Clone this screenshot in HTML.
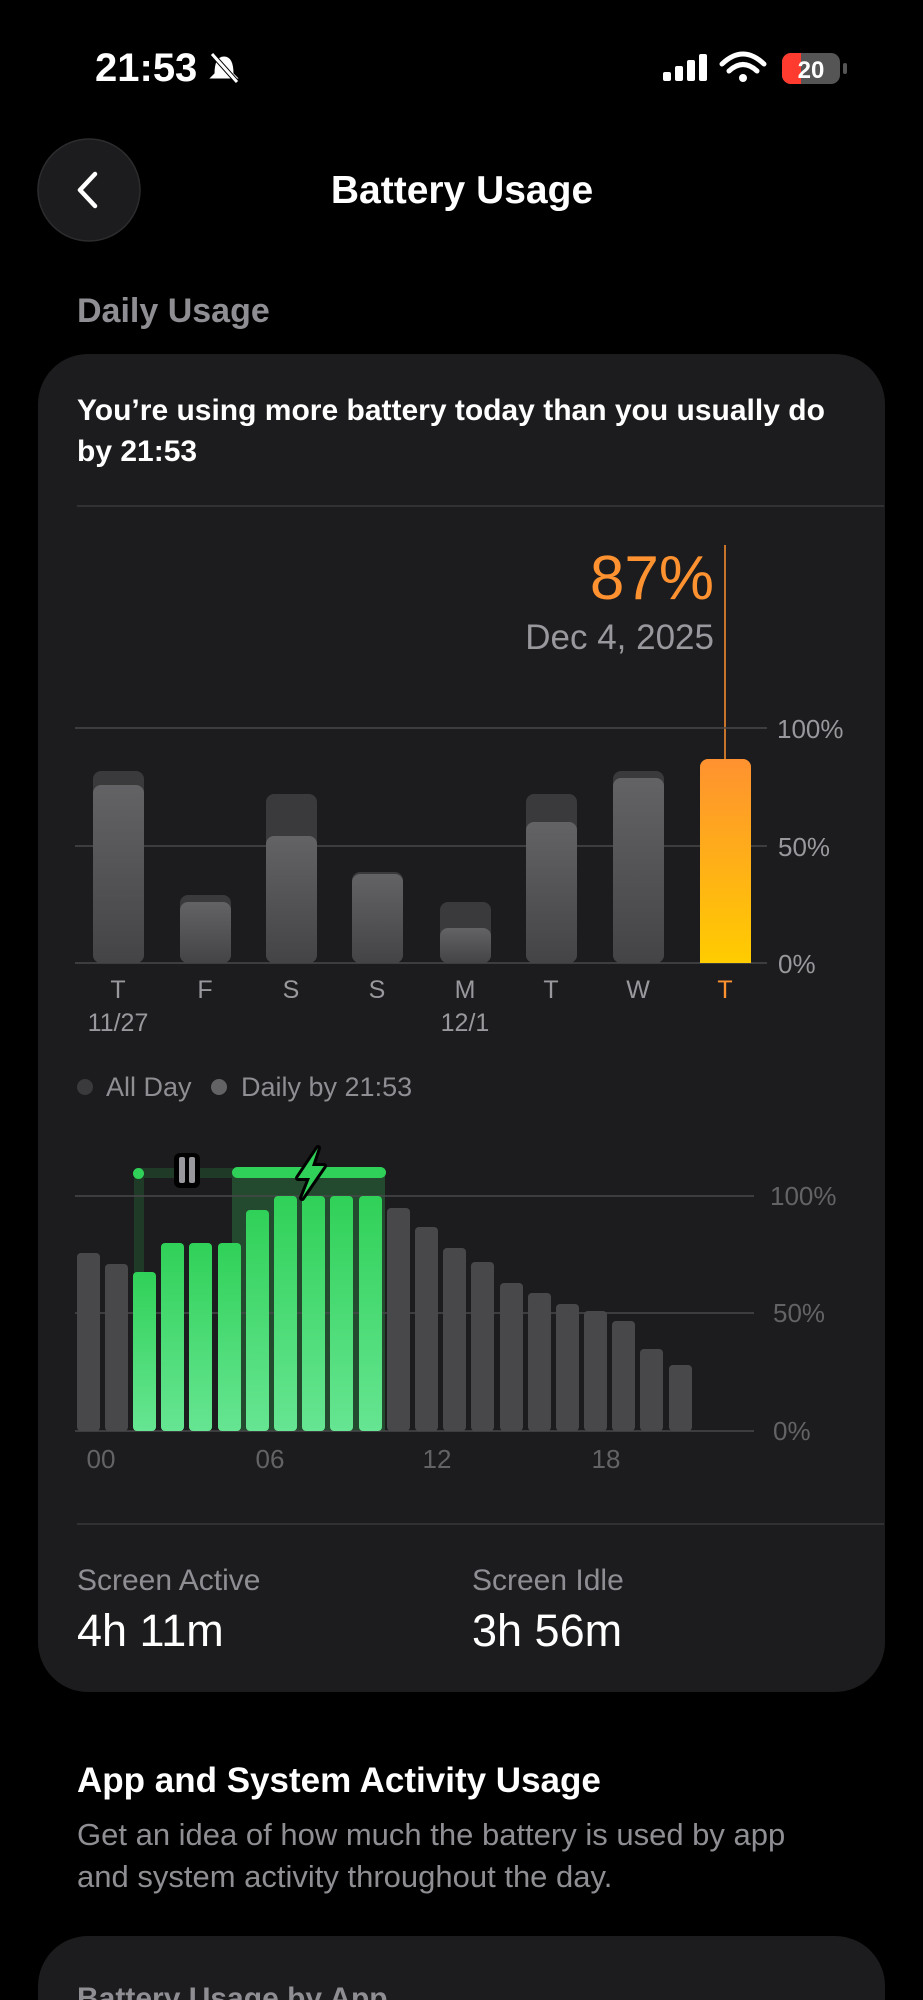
<!DOCTYPE html>
<html><head><meta charset="utf-8"><style>
html,body{margin:0;padding:0;background:#000;}
svg{display:block;font-family:"Liberation Sans",sans-serif;}
</style></head><body>
<svg width="923" height="2000" viewBox="0 0 923 2000" xmlns="http://www.w3.org/2000/svg">
<defs>
<linearGradient id="gd" x1="0" y1="0" x2="0" y2="1"><stop offset="0" stop-color="#636366"/><stop offset="1" stop-color="#444446"/></linearGradient>
<linearGradient id="go" x1="0" y1="0" x2="0" y2="1"><stop offset="0" stop-color="#ff9230"/><stop offset="1" stop-color="#ffcc00"/></linearGradient>
<linearGradient id="gg" x1="0" y1="0" x2="0" y2="1"><stop offset="0" stop-color="#30d158"/><stop offset="1" stop-color="#66e592"/></linearGradient>
</defs>
<rect width="923" height="2000" fill="#000"/>
<text x="95" y="81" fill="#fff" font-size="40" font-weight="bold">21:53</text>
<g transform="translate(210,52)" stroke="#fff" stroke-width="3" fill="none">
<path d="M6 22 C6 10 9 6 14 6 C19 6 22 10 22 22 L25 25 L3 25 Z" fill="#fff"/>
<line x1="2" y1="2" x2="27" y2="30" stroke="#000" stroke-width="5"/>
<line x1="2" y1="2" x2="27" y2="30"/>
</g>
<g fill="#fff">
<rect x="663" y="72" width="8" height="9" rx="2"/><rect x="675" y="66" width="8" height="15" rx="2"/><rect x="687" y="60" width="8" height="21" rx="2"/><rect x="699" y="54" width="8" height="27" rx="2"/>
</g>
<g fill="none" stroke="#fff" stroke-width="5" stroke-linecap="round">
<path d="M722 64 Q743 44 764 64"/><path d="M729 71 Q743 58 757 71"/>
</g>
<circle cx="743" cy="78" r="4" fill="#fff"/>
<rect x="782" y="53" width="58" height="31" rx="9" fill="#555"/>
<path d="M791 53 h10 v31 h-10 a9 9 0 0 1 -9 -9 v-13 a9 9 0 0 1 9 -9z" fill="#ff3b30"/>
<rect x="843" y="63" width="4" height="11" rx="2" fill="#555"/>
<text x="811" y="78" fill="#fff" font-size="24" font-weight="bold" text-anchor="middle">20</text>
<circle cx="89" cy="190" r="51" fill="#1c1c1e" stroke="#2c2c2e" stroke-width="1.5"/>
<path d="M95 174 L80 190 L95 206" fill="none" stroke="#fff" stroke-width="4.5" stroke-linecap="round" stroke-linejoin="round"/>
<text x="462" y="203" fill="#fff" font-size="39" font-weight="bold" text-anchor="middle">Battery Usage</text>
<text x="77" y="322" fill="#8e8e93" font-size="34" font-weight="bold">Daily Usage</text>
<rect x="38" y="354" width="847" height="1338" rx="50" fill="#1c1c1e"/>
<text x="77" y="420" fill="#fff" font-size="30" font-weight="bold">You’re using more battery today than you usually do</text>
<text x="77" y="461" fill="#fff" font-size="30" font-weight="bold">by 21:53</text>
<line x1="77" y1="506" x2="884" y2="506" stroke="#38383a" stroke-width="1.5"/>
<text x="714" y="599" fill="#ff9230" font-size="62" text-anchor="end">87%</text>
<text x="714" y="649" fill="#98989d" font-size="35" text-anchor="end">Dec 4, 2025</text>
<line x1="725" y1="545" x2="725" y2="760" stroke="#ff9230" stroke-width="1.5"/>
<g stroke="#48484a" stroke-width="1.5">
<line x1="75" y1="728" x2="767" y2="728"/><line x1="75" y1="846" x2="767" y2="846"/><line x1="75" y1="963" x2="767" y2="963"/>
</g>
<g fill="#98989d" font-size="26">
<text x="777" y="738">100%</text><text x="778" y="856">50%</text><text x="778" y="973">0%</text>
</g>
<g>
<rect x="93" y="771" width="51" height="192" rx="8" fill="#3a3a3c"/><rect x="93" y="785" width="51" height="178" rx="8" fill="url(#gd)"/>
<rect x="180" y="895" width="51" height="68" rx="8" fill="#3a3a3c"/><rect x="180" y="902" width="51" height="61" rx="8" fill="url(#gd)"/>
<rect x="266" y="794" width="51" height="169" rx="8" fill="#3a3a3c"/><rect x="266" y="836" width="51" height="127" rx="8" fill="url(#gd)"/>
<rect x="352" y="872" width="51" height="91" rx="8" fill="#3a3a3c"/><rect x="352" y="874" width="51" height="89" rx="8" fill="url(#gd)"/>
<rect x="440" y="902" width="51" height="61" rx="8" fill="#3a3a3c"/><rect x="440" y="928" width="51" height="35" rx="8" fill="url(#gd)"/>
<rect x="526" y="794" width="51" height="169" rx="8" fill="#3a3a3c"/><rect x="526" y="822" width="51" height="141" rx="8" fill="url(#gd)"/>
<rect x="613" y="771" width="51" height="192" rx="8" fill="#3a3a3c"/><rect x="613" y="778" width="51" height="185" rx="8" fill="url(#gd)"/>
<path d="M700 767 a8 8 0 0 1 8 -8 h35 a8 8 0 0 1 8 8 v196 h-51z" fill="url(#go)"/>
</g>
<g fill="#98989d" font-size="25" text-anchor="middle">
<text x="118" y="998">T</text><text x="205" y="998">F</text><text x="291" y="998">S</text><text x="377" y="998">S</text><text x="465" y="998">M</text><text x="551" y="998">T</text><text x="638" y="998">W</text><text x="725" y="998" fill="#ff9230">T</text>
<text x="118" y="1031">11/27</text><text x="465" y="1031">12/1</text>
</g>
<circle cx="85" cy="1087" r="8" fill="#3a3a3c"/><text x="106" y="1096" fill="#8e8e93" font-size="27">All Day</text>
<circle cx="219" cy="1087" r="8" fill="#636366"/><text x="241" y="1096" fill="#8e8e93" font-size="27">Daily by 21:53</text>
<rect x="134" y="1173" width="10" height="258" fill="#1f3b27"/>
<rect x="138" y="1168" width="95" height="10" fill="#1f3b27"/>
<rect x="232" y="1173" width="153" height="258" fill="#234a2e"/>
<g stroke="#48484a" stroke-width="1.5">
<line x1="75" y1="1196" x2="754" y2="1196"/><line x1="75" y1="1313" x2="754" y2="1313"/><line x1="75" y1="1431" x2="754" y2="1431"/>
</g>
<g fill="#636366" font-size="26">
<text x="770" y="1205">100%</text><text x="773" y="1322">50%</text><text x="773" y="1440">0%</text>
</g>
<g fill="#48484a">
<rect x="77" y="1253" width="23" height="178" rx="4"/>
<rect x="105" y="1264" width="23" height="167" rx="4"/>
<rect x="387" y="1208" width="23" height="223" rx="4"/>
<rect x="415" y="1227" width="23" height="204" rx="4"/>
<rect x="443" y="1248" width="23" height="183" rx="4"/>
<rect x="471" y="1262" width="23" height="169" rx="4"/>
<rect x="500" y="1283" width="23" height="148" rx="4"/>
<rect x="528" y="1293" width="23" height="138" rx="4"/>
<rect x="556" y="1304" width="23" height="127" rx="4"/>
<rect x="584" y="1311" width="23" height="120" rx="4"/>
<rect x="612" y="1321" width="23" height="110" rx="4"/>
<rect x="640" y="1349" width="23" height="82" rx="4"/>
<rect x="669" y="1365" width="23" height="66" rx="4"/>
</g>
<g fill="url(#gg)">
<rect x="133" y="1272" width="23" height="159" rx="4"/>
<rect x="161" y="1243" width="23" height="188" rx="4"/>
<rect x="189" y="1243" width="23" height="188" rx="4"/>
<rect x="218" y="1243" width="23" height="188" rx="4"/>
<rect x="246" y="1210" width="23" height="221" rx="4"/>
<rect x="274" y="1196" width="23" height="235" rx="4"/>
<rect x="302" y="1196" width="23" height="235" rx="4"/>
<rect x="330" y="1196" width="23" height="235" rx="4"/>
<rect x="359" y="1196" width="23" height="235" rx="4"/>
</g>
<rect x="133" y="1168" width="11" height="11" rx="5.5" fill="#30d158"/>
<rect x="232" y="1167" width="154" height="11" rx="5.5" fill="#30d158"/>
<rect x="174" y="1153" width="26" height="35" rx="6" fill="#000"/>
<rect x="179" y="1157" width="6" height="26" rx="2" fill="#98989d"/><rect x="189" y="1157" width="6" height="26" rx="2" fill="#98989d"/>
<path d="M318 1148 L298 1178 L310 1178 L302 1198 L324 1166 L312 1166 Z" fill="#000" stroke="#000" stroke-width="6" stroke-linejoin="round"/>
<path d="M318 1148 L298 1178 L310 1178 L302 1198 L324 1166 L312 1166 Z" fill="#30d158"/>
<g fill="#636366" font-size="26" text-anchor="middle">
<text x="101" y="1468">00</text><text x="270" y="1468">06</text><text x="437" y="1468">12</text><text x="606" y="1468">18</text>
</g>
<line x1="77" y1="1524" x2="884" y2="1524" stroke="#38383a" stroke-width="1.5"/>
<text x="77" y="1590" fill="#8e8e93" font-size="30">Screen Active</text>
<text x="472" y="1590" fill="#8e8e93" font-size="30">Screen Idle</text>
<text x="77" y="1646" fill="#fff" font-size="45">4h 11m</text>
<text x="472" y="1646" fill="#fff" font-size="45">3h 56m</text>
<text x="77" y="1792" fill="#fff" font-size="35" font-weight="bold">App and System Activity Usage</text>
<text x="77" y="1845" fill="#8e8e93" font-size="31">Get an idea of how much the battery is used by app</text>
<text x="77" y="1887" fill="#8e8e93" font-size="31">and system activity throughout the day.</text>
<rect x="38" y="1936" width="847" height="120" rx="50" fill="#1c1c1e"/>
<text x="77" y="2008" fill="#8e8e93" font-size="30" font-weight="bold">Battery Usage by App</text>
</svg>
</body></html>
